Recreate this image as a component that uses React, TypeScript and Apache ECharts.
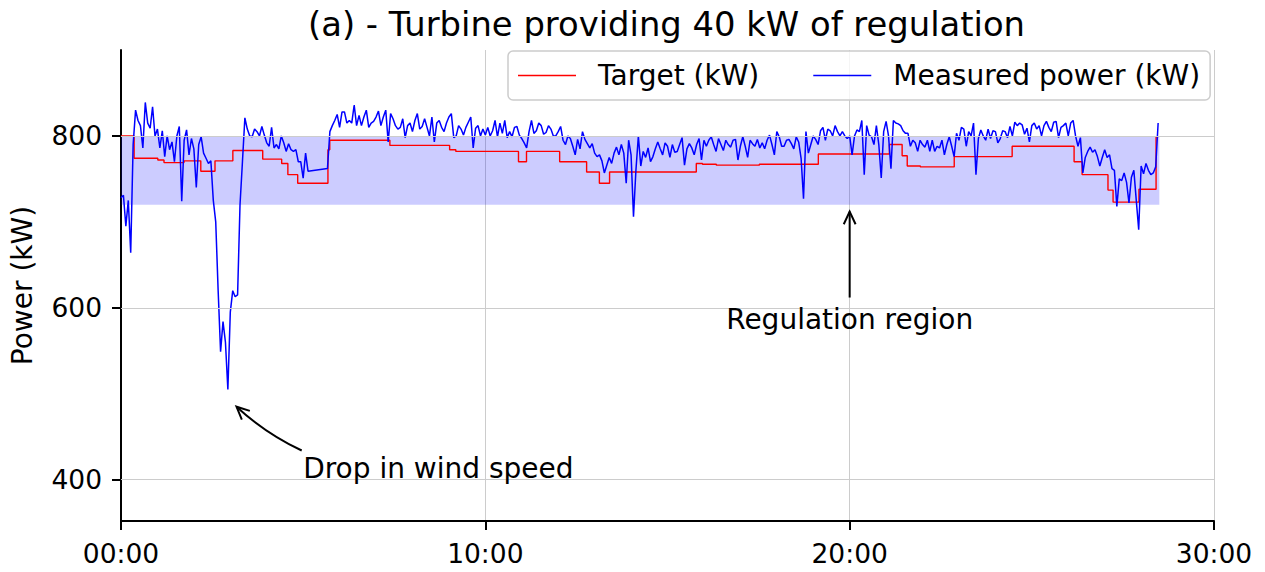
import React, { useEffect, useRef } from "react";
import * as echarts from "echarts";

// ---------- data ----------
const TITLE = "(a) - Turbine providing 40 kW of regulation";
const SERIES_NAMES = ["Target (kW)", "Measured power (kW)"];
const X_TICKS_MIN = [0, 10, 20, 30];
const Y_TICKS_KW = [400, 600, 800];
const Y_MIN = 352;
const Y_MAX = 900;
const REGULATION_LOW = 720;
const REGULATION_HIGH = 800;
const REGULATION_END_MIN = 28.5;

// Target set-point steps (start time in minutes, value in kW)
const TARGET_T = [0, 0.36, 1.01, 1.18, 1.73, 2.19, 2.58, 3.07, 3.89, 4.41, 4.58, 4.85, 5.68, 5.73, 7.38, 9.02, 9.19, 10.91, 11.13, 12.04, 12.78, 13.13, 13.41, 15.79, 15.96, 16.34, 17.52, 19.14, 21.09, 21.44, 21.58, 21.94, 22.87, 24.46, 26.16, 26.38, 27.09, 27.23, 27.94, 28.41, 28.47];
const TARGET_KW = [800, 774, 772, 769, 771, 759, 771, 783, 773, 768, 755, 745, 784, 795, 789, 784, 782, 770, 782, 770, 758, 745, 758, 768, 767, 766, 767, 779, 790, 777, 765, 764, 776, 788, 770, 755, 737, 723, 738, 799, 799];

// Measured power, one sample every 4 s (null = missing sample)
const MEASURED_DT_S = 4;
const MEASURED_KW: (number | null)[] = [
  728, 731, 695, 725, 664, 790, 830, 818, 812, 786,
  839, 815, 809, 834, 800, 808, 786, 806, 776, 800,
  784, 793, 770, 800, 811, 724, 795, 807, 778, 797,
  785, 740, 790, 799, 780, 774, 768, 771, 725, 700,
  620, 549, 584, 560, 505, 595, 620, 613, 615, 720,
  770, 821, 808, 800, 799, 808, 805, 800, 811, 801,
  792, 788, 810, 786, 790, 785, 800, 792, 782, 791,
  784, 782, 784, 770, 770, 751, 780, 759, null, null,
  null, null, null, null, null, 762, 805, 812, 818, 825,
  810, 828, 828, 815, 818, 815, 836, 812, 824, 812,
  822, 830, 810, 815, 817, 822, 829, 812, 822, 830,
  793, 826, 820, 812, 808, 810, 820, 798, 812, 815,
  805, 818, 826, 808, 811, 820, 810, 800, 822, 793,
  815, 818, 810, 805, 815, 822, 826, 798, 800, 812,
  808, 801, 810, 816, 822, 786, 809, 812, 800, 808,
  801, 810, 800, 806, 818, 799, 815, 803, 818, 798,
  805, 799, 810, 811, 801, 797, 792, 786, 805, 818,
  803, 806, 815, 812, 802, 804, 812, 808, 800, 800,
  805, 811, 795, 790, 800, 797, 788, 778, 796, 785,
  805, 796, 791, 786, 791, 780, 776, 778, 771, 757,
  766, 775, 768, 780, 787, 778, 790, 780, 745, 795,
  778, 706, 760, 800, 765, 782, 775, 786, 770, 776,
  785, 793, 785, 778, 792, 788, 775, 790, 781, 782,
  790, 798, 766, 785, 791, 786, 778, 790, 797, 772,
  795, 788, 795, 799, 790, 782, 797, 790, 783, 795,
  790, 787, 795, 796, 772, 788, 799, 788, 775, 795,
  791, 788, 796, 786, 792, 785, 795, 801, 790, 778,
  805, 799, 788, 788, 795, 796, 791, 785, 799, 793,
  774, 727, 805, 780, 790, 800, 796, 790, 806, 810,
  795, 808, 806, 800, 812, 805, 800, 805, 800, 797,
  800, 778, 800, 807, 805, 818, 755, 812, 801, 799,
  790, 812, 790, 751, 805, 817, 800, 762, 818, 815,
  814, 812, 806, 803, 803, 788, 795, 792, 782, 795,
  790, 787, 795, 782, 795, 782, 788, 786, 795, 778,
  790, 799, 788, 776, 803, 795, 810, 808, 788, 805,
  800, 815, 755, 797, 807, 800, 795, 808, 797, 806,
  805, 792, 797, 806, 805, 798, 811, 800, 816, 812,
  815, 813, 802, 809, 793, 812, 815, 808, 812, 800,
  812, 817, 810, 805, 816, 817, 798, 810, 812, 815,
  800, 815, 818, 800, 788, 798, 757, 775, 782, 787,
  781, 784, 776, 765, 775, 784, 775, 778, 762, 760,
  718, 750, 748, 757, 746, 722, 752, 760, 725, 691,
  765, 756, 768, 760, 755, 757, 764, 815,
];

// Annotations (data coordinates: minutes, kW)
const ANNOT_REGION_TEXT = "Regulation region";
const ANNOT_REGION_TEXT_POS: [number, number] = [20, 586];
const ANNOT_REGION_ARROW_FROM: [number, number] = [20, 612];
const ANNOT_REGION_ARROW_TO: [number, number] = [20, 712];
const ANNOT_DROP_TEXT = "Drop in wind speed";
const ANNOT_DROP_TEXT_POS: [number, number] = [5.0, 413];
const ANNOT_DROP_ARROW_FROM: [number, number] = [4.96, 434];
const ANNOT_DROP_ARROW_TO: [number, number] = [3.17, 485];

const FONT = "'DejaVu Sans', 'Noto Sans', sans-serif";
const TEXT_SIZE = 28;

function fmtMinutes(v: number): string {
  const m = Math.round(v);
  return (m < 10 ? "0" : "") + m + ":00";
}

function arrowWings(tip: number[], from: number[], len = 14, angDeg = 25) {
  const dx = tip[0] - from[0];
  const dy = tip[1] - from[1];
  const d = Math.hypot(dx, dy) || 1;
  const bx = -dx / d;
  const by = -dy / d;
  const a = (angDeg * Math.PI) / 180;
  const rot = (s: number) => {
    const c = Math.cos(s * a);
    const sn = Math.sin(s * a);
    return [tip[0] + len * (bx * c - by * sn), tip[1] + len * (bx * sn + by * c)];
  };
  return [rot(1), tip, rot(-1)];
}

export default function App() {
  const ref = useRef<HTMLDivElement>(null);

  useEffect(() => {
    if (!ref.current) return;
    const chart = echarts.init(ref.current, null, { renderer: "svg" });

    const targetData = TARGET_T.map((t, i) => [t, TARGET_KW[i]]);
    const measuredData = MEASURED_KW.map((v, i) => [(i * MEASURED_DT_S) / 60, v]);

    const option: any = {
      animation: false,
      title: {
        text: TITLE,
        left: 303,
        top: 2,
        textStyle: { fontSize: 33.8, fontWeight: "normal", fontFamily: FONT, color: "#000" },
      },
      legend: {
        data: SERIES_NAMES,
        left: 508,
        top: 51,
        padding: [10, 10, 10, 10],
        itemGap: 54,
        itemWidth: 58,
        itemHeight: 1.5,
        icon: "rect",
        borderColor: "#cccccc",
        borderWidth: 1.5,
        borderRadius: 5,
        backgroundColor: "rgba(255,255,255,0.8)",
        textStyle: {
          fontSize: TEXT_SIZE,
          fontFamily: FONT,
          color: "#000",
          lineHeight: 29,
          padding: [0, 0, 0, 17],
        },
      },
      grid: { left: 120, top: 50, width: 1094, height: 471, containLabel: false },
      xAxis: {
        type: "value",
        min: X_TICKS_MIN[0],
        max: X_TICKS_MIN[X_TICKS_MIN.length - 1],
        interval: 10,
        axisLine: { show: true, onZero: false, lineStyle: { color: "#000", width: 2 } },
        axisTick: { show: true, inside: false, length: 9, lineStyle: { color: "#000", width: 2 } },
        axisLabel: {
          formatter: fmtMinutes,
          fontSize: 26.5,
          fontFamily: FONT,
          color: "#000",
          margin: 19,
          showMinLabel: true,
          showMaxLabel: true,
        },
        splitLine: { show: true, lineStyle: { color: "#cccccc", width: 1 } },
      },
      yAxis: {
        type: "value",
        min: Y_MIN,
        max: Y_MAX,
        name: "Power (kW)",
        nameLocation: "middle",
        nameRotate: 90,
        nameGap: 85,
        nameTextStyle: { fontSize: TEXT_SIZE, fontFamily: FONT, color: "#000" },
        axisLine: { show: true, onZero: false, lineStyle: { color: "#000", width: 2 } },
        axisTick: {
          show: true,
          inside: false,
          length: 9,
          customValues: Y_TICKS_KW,
          lineStyle: { color: "#000", width: 2 },
        },
        axisLabel: {
          customValues: Y_TICKS_KW,
          fontSize: 26.5,
          fontFamily: FONT,
          color: "#000",
          margin: 19,
        },
        splitLine: { show: false },
      },
      series: [
        {
          name: SERIES_NAMES[0],
          type: "line",
          step: "end",
          data: targetData,
          symbol: "none",
          color: "#ff0000",
          lineStyle: { color: "#ff0000", width: 1.4 },
          z: 3,
          markArea: {
            silent: true,
            itemStyle: { color: "rgba(0,0,255,0.2)" },
            data: [[{ xAxis: 0, yAxis: REGULATION_LOW }, { xAxis: REGULATION_END_MIN, yAxis: REGULATION_HIGH }]],
          },
          markLine: {
            silent: true,
            symbol: ["none", "none"],
            label: { show: false },
            lineStyle: { color: "#cccccc", width: 1, type: "solid" },
            data: Y_TICKS_KW.map((v) => ({ yAxis: v })),
          },
        },
        {
          name: SERIES_NAMES[1],
          type: "line",
          data: measuredData,
          connectNulls: true,
          symbol: "none",
          color: "#0000ff",
          lineStyle: { color: "#0000ff", width: 1.5 },
          z: 4,
        },
      ],
    };

    chart.setOption(option);

    const px = (p: [number, number]) => chart.convertToPixel({ gridIndex: 0 }, p) as number[];

    const r0 = px(ANNOT_REGION_ARROW_FROM);
    const r1 = px(ANNOT_REGION_ARROW_TO);
    const rt = px(ANNOT_REGION_TEXT_POS);
    const d0 = px(ANNOT_DROP_ARROW_FROM);
    const d1 = px(ANNOT_DROP_ARROW_TO);
    const dt = px(ANNOT_DROP_TEXT_POS);
    const mx = (d0[0] + d1[0]) / 2;
    const my = (d0[1] + d1[1]) / 2;
    const cdx = d1[0] - d0[0];
    const cdy = d1[1] - d0[1];
    const clen = Math.hypot(cdx, cdy) || 1;
    const bend = 6;
    const cp = [mx + (cdy / clen) * bend, my + (-cdx / clen) * bend];

    const stroke = { stroke: "#000", lineWidth: 2, fill: "none" };

    chart.setOption({
      graphic: [
        { type: "line", silent: true, z: 100, shape: { x1: r0[0], y1: r0[1], x2: r1[0], y2: r1[1] }, style: stroke },
        { type: "polyline", silent: true, z: 100, shape: { points: arrowWings(r1, r0) }, style: stroke },
        {
          type: "text",
          silent: true,
          z: 100,
          x: rt[0],
          y: rt[1],
          style: {
            text: ANNOT_REGION_TEXT,
            fontSize: TEXT_SIZE,
            fontFamily: FONT,
            fill: "#000",
            align: "center",
            verticalAlign: "middle",
            textAlign: "center",
            textVerticalAlign: "middle",
          },
        },
        {
          type: "bezierCurve",
          silent: true,
          z: 100,
          shape: { x1: d0[0], y1: d0[1], x2: d1[0], y2: d1[1], cpx1: cp[0], cpy1: cp[1] },
          style: stroke,
        },
        { type: "polyline", silent: true, z: 100, shape: { points: arrowWings(d1, cp) }, style: stroke },
        {
          type: "text",
          silent: true,
          z: 100,
          x: dt[0],
          y: dt[1],
          style: {
            text: ANNOT_DROP_TEXT,
            fontSize: TEXT_SIZE,
            fontFamily: FONT,
            fill: "#000",
            align: "left",
            verticalAlign: "middle",
            textAlign: "left",
            textVerticalAlign: "middle",
          },
        },
      ],
    });

    return () => {
      chart.dispose();
    };
  }, []);

  return (
    <div
      ref={ref}
      style={{ position: "absolute", left: 0, top: 0, width: 1265, height: 572, background: "#fff" }}
    />
  );
}
